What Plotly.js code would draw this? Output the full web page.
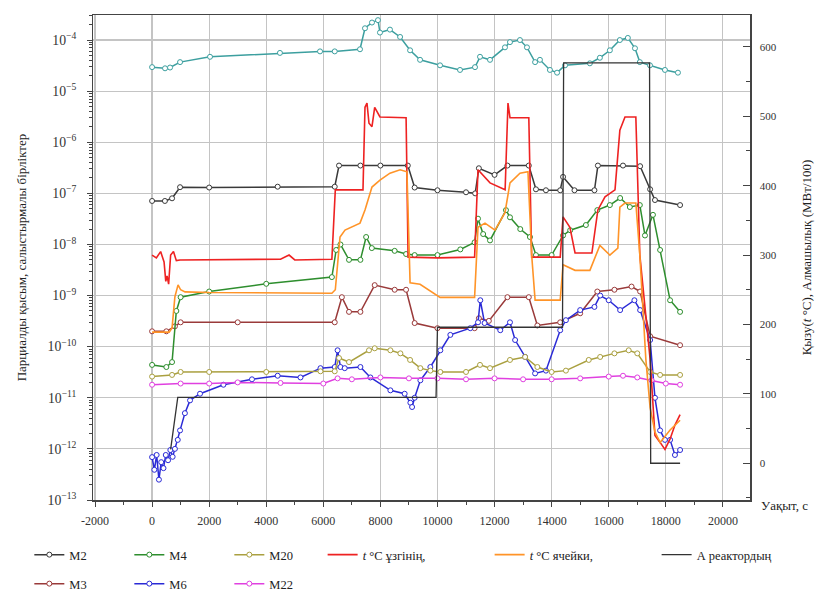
<!DOCTYPE html>
<html>
<head>
<meta charset="utf-8">
<script src="https://cdn.plot.ly/plotly-3.0.1.min.js"></script>
<style>html,body{margin:0;padding:0;background:#fff;}#chart{width:838px;height:591px;}</style>
</head>
<body>
<div id="chart"></div>
<script>
// ---- data (time in s; partial pressures in relative units; temperature °C; power MW/100) ----
const tM1 = [0, 455, 630, 980, 2030, 4480, 5885, 6400, 7285, 7460, 7705, 7915, 7985, 8335, 8690, 9040, 9390, 10090, 10790, 11315, 11490, 11840, 12365, 12540, 12890, 13135, 13420, 13590, 13940, 14190, 14470, 15340, 15690, 16040, 16390, 16670, 16920, 17090, 17445, 17970, 18425];
const vM1 = [2.95e-5, 2.8e-5, 2.9e-5, 3.7e-5, 4.7e-5, 5.6e-5, 6.0e-5, 6.0e-5, 6.6e-5, 1.7e-4, 2.2e-4, 2.45e-4, 1.4e-4, 1.6e-4, 1.15e-4, 6.3e-5, 4.1e-5, 3.2e-5, 2.6e-5, 2.95e-5, 4.7e-5, 4.1e-5, 7.2e-5, 9.1e-5, 1.0e-4, 7.2e-5, 3.7e-5, 4.1e-5, 2.6e-5, 2.3e-5, 3.2e-5, 3.5e-5, 4.5e-5, 6.3e-5, 1.0e-4, 1.1e-4, 6.9e-5, 3.7e-5, 3.2e-5, 2.6e-5, 2.3e-5];

const tM2 = [0, 450, 700, 980, 2000, 4400, 6400, 6550, 7300, 8000, 8960, 9200, 10000, 11000, 11320, 11450, 12000, 12450, 13200, 13450, 13800, 14300, 14400, 14800, 15500, 15620, 16500, 17100, 17450, 17620, 18500];
const vM2 = [7.1e-8, 7.1e-8, 8e-8, 1.32e-7, 1.3e-7, 1.35e-7, 1.35e-7, 3.5e-7, 3.5e-7, 3.5e-7, 3.5e-7, 1.3e-7, 1.15e-7, 1.05e-7, 1.0e-7, 3.1e-7, 2.3e-7, 3.5e-7, 3.5e-7, 1.2e-7, 1.15e-7, 1.15e-7, 2.1e-7, 1.15e-7, 1.15e-7, 3.5e-7, 3.5e-7, 3.4e-7, 1.2e-7, 7.4e-8, 5.9e-8];

const tM3 = [0, 500, 800, 1000, 3000, 6400, 6650, 6900, 7300, 7800, 8500, 8900, 9200, 10000, 11300, 11450, 11800, 12450, 13200, 13500, 14300, 15000, 15600, 16200, 16800, 17100, 17450, 18500];
const vM3 = [2.0e-10, 2.0e-10, 2.5e-10, 3.0e-10, 3.0e-10, 3.0e-10, 9.3e-10, 4.8e-10, 4.8e-10, 1.6e-9, 1.3e-9, 1.3e-9, 2.9e-10, 2.3e-10, 2.3e-10, 3.6e-10, 3.2e-10, 9.3e-10, 9.3e-10, 2.6e-10, 3.0e-10, 4.5e-10, 1.2e-9, 1.3e-9, 1.5e-9, 1.2e-9, 1.6e-10, 1.07e-10];

const tM4 = [0, 500, 700, 850, 1000, 2000, 4000, 6300, 6450, 6600, 6900, 7300, 7500, 7700, 8500, 8900, 9200, 10000, 10800, 11300, 11420, 11600, 11840, 12400, 12540, 12900, 13240, 13450, 14000, 14400, 14650, 15200, 15600, 16040, 16400, 16740, 17090, 17270, 17550, 17800, 18150, 18500];
const vM4 = [4.4e-11, 4.0e-11, 5e-11, 5e-10, 9.3e-10, 1.2e-9, 1.7e-9, 2.3e-9, 7.8e-9, 1.0e-8, 5.0e-9, 5.0e-9, 1.4e-8, 8.5e-9, 7.5e-9, 6.5e-9, 6.2e-9, 6.2e-9, 8e-9, 1.1e-8, 3.2e-8, 1.6e-8, 1.2e-8, 4.7e-8, 3.4e-8, 2.0e-8, 1.4e-8, 6.2e-9, 6.2e-9, 1.5e-8, 1.9e-8, 2.4e-8, 4.7e-8, 5.9e-8, 8.1e-8, 5.4e-8, 5.9e-8, 1.5e-8, 3.8e-8, 7.8e-9, 8.1e-10, 4.8e-10];

const tM6 = [0, 80, 160, 240, 320, 400, 480, 560, 640, 720, 800, 900, 980, 1150, 1330, 1680, 2500, 3500, 4400, 5200, 5900, 6400, 6500, 6600, 6750, 7300, 7650, 8350, 8850, 9050, 9110, 9200, 9400, 9750, 10100, 10450, 11150, 11420, 11500, 11650, 12200, 12540, 12720, 13070, 13420, 13800, 14300, 14500, 15000, 15500, 15700, 16000, 16400, 16900, 17100, 17450, 17620, 17800, 17970, 18150, 18320, 18500];
const vM6 = [6.9e-13, 3.9e-13, 7.6e-13, 2.5e-13, 5.5e-13, 4.2e-13, 7.6e-13, 6.0e-13, 9.5e-13, 7.0e-13, 1.0e-12, 1.5e-12, 2.3e-12, 5.0e-12, 8.9e-12, 1.2e-11, 1.8e-11, 2.3e-11, 2.7e-11, 2.5e-11, 3.8e-11, 4.0e-11, 8.5e-11, 4.0e-11, 3.8e-11, 4.0e-11, 2.5e-11, 1.4e-11, 1.2e-11, 8e-12, 6.6e-12, 1.0e-11, 2.2e-11, 4.0e-11, 8.5e-11, 1.7e-10, 2.3e-10, 3.0e-10, 8.1e-10, 2.9e-10, 2.1e-10, 3.0e-10, 1.35e-10, 6.3e-11, 3.0e-11, 3.4e-11, 2.1e-10, 3.3e-10, 5.2e-10, 6.0e-10, 1.0e-9, 8.1e-10, 5.2e-10, 8.1e-10, 5.2e-10, 1.35e-10, 1.0e-11, 2.3e-12, 1.5e-12, 1.5e-12, 7.6e-13, 9.5e-13];

const tM20 = [0, 700, 1000, 2000, 4000, 5900, 6400, 6550, 6900, 7600, 7800, 8350, 8700, 9040, 9400, 9750, 10100, 11000, 11490, 11840, 12540, 13070, 13500, 14000, 14500, 15300, 15700, 16200, 16700, 17000, 17450, 17800, 18500];
const vM20 = [2.6e-11, 2.8e-11, 3.2e-11, 3.2e-11, 3.2e-11, 3.3e-11, 3.3e-11, 6.0e-11, 5.0e-11, 8.5e-11, 9.3e-11, 8.5e-11, 7.4e-11, 5.5e-11, 3.8e-11, 3.4e-11, 3.2e-11, 3.2e-11, 4.4e-11, 3.8e-11, 5.5e-11, 6.3e-11, 4.0e-11, 3.2e-11, 3.4e-11, 5.5e-11, 6.3e-11, 7.4e-11, 8.5e-11, 7.4e-11, 3.2e-11, 2.8e-11, 2.8e-11];

const tM22 = [0, 1000, 2000, 3000, 4500, 6000, 6500, 7000, 8000, 9000, 10000, 11000, 12000, 13000, 14000, 15000, 16000, 16500, 17000, 17500, 18000, 18500];
const vM22 = [1.8e-11, 1.9e-11, 1.9e-11, 2.0e-11, 1.95e-11, 1.9e-11, 2.4e-11, 2.3e-11, 2.5e-11, 2.4e-11, 2.4e-11, 2.3e-11, 2.4e-11, 2.3e-11, 2.3e-11, 2.4e-11, 2.6e-11, 2.7e-11, 2.5e-11, 2.2e-11, 1.9e-11, 1.8e-11];

const tTin = [0, 150, 300, 420, 480, 525, 580, 650, 750, 850, 980, 2000, 4500, 4800, 5000, 6300, 6420, 7390, 7460, 7530, 7600, 7705, 7800, 7985, 8900, 8970, 10000, 11300, 11420, 11840, 12370, 12470, 12540, 13200, 13300, 14300, 14400, 14640, 14820, 15410, 15620, 15870, 16220, 16390, 16570, 16950, 17090, 17450, 17620, 17800, 17970, 18150, 18320, 18500];
const vTin = [300, 296, 305, 290, 262, 270, 258, 300, 305, 292, 293, 293, 294, 300, 293, 294, 394, 394, 513, 519, 490, 485, 513, 499, 498, 297, 296, 297, 423, 404, 394, 519, 498, 498, 297, 297, 355, 340, 303, 303, 365, 384, 394, 480, 499, 499, 300, 150, 40, 30, 20, 35, 55, 70];

const tTcell = [0, 600, 700, 800, 910, 1000, 1155, 2000, 6300, 6420, 6585, 6760, 7285, 7460, 7705, 7985, 8335, 8690, 8930, 9040, 9390, 10090, 11300, 11420, 11665, 12015, 12365, 12540, 12890, 13170, 13300, 13420, 14300, 14400, 14820, 15340, 15690, 16040, 16320, 16390, 16570, 16950, 17090, 17300, 17450, 17620, 17800, 18150, 18500];
const vTcell = [189, 189, 195, 240, 257, 250, 247, 246, 245, 250, 326, 336, 346, 365, 398, 408, 418, 423, 420, 260, 258, 239, 239, 340, 346, 336, 361, 404, 418, 420, 300, 235, 235, 286, 278, 278, 314, 300, 310, 369, 375, 375, 300, 150, 80, 45, 30, 48, 62];

const tPower = [650, 900, 9950, 10000, 14380, 14420, 17430, 17470, 18500];
const vPower = [20, 95, 95, 196, 196, 577, 577, 0, 0];

const xTicks = [-2000, 0, 2000, 4000, 6000, 8000, 10000, 12000, 14000, 16000, 18000, 20000];

// ---- chart ----
const serif = 'Liberation Serif, Times New Roman, serif';
function ms(name, t, v, color, legend, show) {
  return {
    type: 'scatter', mode: 'lines+markers', name: name, x: t, y: v,
    line: {color: color, width: 1.5},
    marker: {symbol: 'circle', size: 5, color: '#ffffff', line: {color: color, width: 1}},
    legend: legend, showlegend: show !== false
  };
}
const traces = [
  ms('M1', tM1, vM1, '#3c9f9f', 'legend', false),
  ms('M3', tM3, vM3, '#9a3a3a', 'legend3'),
  ms('M6', tM6, vM6, '#2a2ad6', 'legend3'),
  ms('M22', tM22, vM22, '#e040e0', 'legend3'),
  ms('M2', tM2, vM2, '#3a3a3a', 'legend'),
  ms('M4', tM4, vM4, '#2e8e2e', 'legend'),
  ms('M20', tM20, vM20, '#aaa040', 'legend'),
  {type: 'scatter', mode: 'lines', name: '<i>t</i> °C ұзгінің,', x: tTin, y: vTin, yaxis: 'y2',
   line: {color: '#ee2222', width: 1.6}, legend: 'legend2'},
  {type: 'scatter', mode: 'lines', name: '<i>t</i> °C ячейки,', x: tTcell, y: vTcell, yaxis: 'y2',
   line: {color: '#ff9428', width: 1.6}, legend: 'legend2'},
  {type: 'scatter', mode: 'lines', name: 'А реактордың', x: tPower, y: vPower, yaxis: 'y2',
   line: {color: '#333333', width: 1.3}, legend: 'legend2'}
];

const legendBase = {orientation: 'h', xref: 'container', yref: 'container', yanchor: 'middle', xanchor: 'left',
  font: {family: serif, size: 12.5, color: '#222'}, bgcolor: 'rgba(0,0,0,0)', borderwidth: 0, tracegroupgap: 0};

const layout = {
  width: 838, height: 591,
  margin: {l: 93, r: 88, t: 15, b: 91},
  paper_bgcolor: '#ffffff', plot_bgcolor: '#ffffff',
  font: {family: serif, size: 12, color: '#333'},
  xaxis: {
    range: [-2070, 20950], tickvals: xTicks, ticktext: xTicks.map(String),
    showgrid: true, gridcolor: '#c4c4c4', gridwidth: 1.2,
    showline: true, linecolor: '#444', linewidth: 1.5, mirror: true,
    ticks: 'outside', ticklen: 5, tickcolor: '#444', zeroline: false, ticklabelstandoff: 4,
    minor: {dtick: 1000, tick0: 0, ticks: 'outside', ticklen: 3, tickcolor: '#444', showgrid: false},
    tickfont: {family: serif, size: 12, color: '#333'}
  },
  yaxis: {
    type: 'log', range: [-13, -3.51], dtick: 1, exponentformat: 'power',
    showgrid: true, gridcolor: '#c4c4c4', gridwidth: 1.2,
    showline: true, linecolor: '#444', linewidth: 1.5,
    ticks: 'outside', ticklen: 5, tickcolor: '#444', zeroline: false, ticklabelstandoff: 8,
    minor: {ticks: 'outside', ticklen: 3, tickcolor: '#444', showgrid: false},
    tickfont: {family: serif, size: 11, color: '#333'},
    title: {text: 'Парциалды қысым, салыстырмалы бірліктер', font: {family: serif, size: 13, color: '#222'}, standoff: 18}
  },
  yaxis2: {
    overlaying: 'y', side: 'right', range: [-53, 646], dtick: 100, tick0: 0,
    showgrid: false, zeroline: false,
    showline: true, linecolor: '#444', linewidth: 1.5,
    ticks: 'inside', ticklen: 7, tickcolor: '#444', ticklabelstandoff: 6,
    minor: {dtick: 50, ticks: 'inside', ticklen: 4, tickcolor: '#444'},
    tickfont: {family: serif, size: 11, color: '#333'},
    title: {text: 'Қызу(<i>t</i> °C), Алмашылық (МВт/100)', font: {family: serif, size: 13, color: '#222'}, standoff: 26}
  },
  legend: Object.assign({}, legendBase, {x: 0.035, y: 1 - 555 / 591, entrywidth: 55}),
  legend3: Object.assign({}, legendBase, {x: 0.035, y: 1 - 584 / 591, entrywidth: 55}),
  legend2: Object.assign({}, legendBase, {x: 0.385, y: 1 - 555 / 591, entrywidth: 122}),
  annotations: [
    {text: 'Уақыт, с', xref: 'paper', yref: 'paper', x: 1.013, y: -0.012, xanchor: 'left', yanchor: 'middle',
     showarrow: false, font: {family: serif, size: 13, color: '#222'}}
  ]
};

Plotly.newPlot('chart', traces, layout, {displayModeBar: false, staticPlot: true});
</script>
</body>
</html>
